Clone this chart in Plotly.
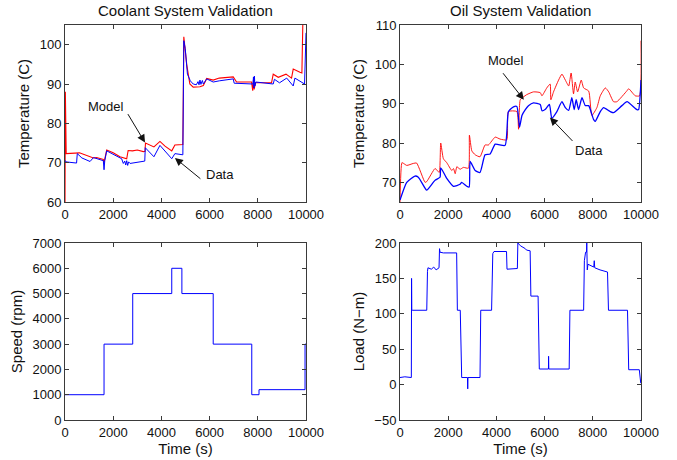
import plotly.graph_objects as go

# ---------------- data ----------------
cool_model_t = [0, 15, 50, 600, 1180, 1310, 1590, 1620, 1730, 2000, 2280, 2560, 2620, 2800, 3000, 3250,
                3320, 3340, 3690, 3940, 4150, 4430, 4560, 4890, 4930, 5050, 5180, 5320, 5600, 5740,
                5880, 6150, 6400, 6980, 7120, 7740, 7790, 7820, 7850, 7900, 8570, 8640, 8850, 9170,
                9400, 9470, 9750, 9830, 9870]
cool_model_v = [60, 88, 72.3, 72.5, 71.2, 71.3, 70.8, 70.0, 73.2, 72.5, 71.5, 71.0, 73.1, 73.0, 73.2, 72.8,
                72.9, 75.0, 74.0, 75.4, 74.2, 73.0, 74.5, 74.6, 102.0, 95.0, 90.0, 89.2, 89.3, 89.6,
                91.4, 91.0, 91.5, 91.8, 90.5, 90.5, 88.3, 91.0, 88.6, 90.3, 90.3, 92.5, 91.7, 92.5,
                91.5, 93.8, 93.0, 92.8, 106.0]

cool_data_t = [0, 40, 480, 510, 700, 1040, 1180, 1590, 1620, 1650, 1730, 2000, 2350, 2420, 2480, 2520,
               2560, 2600, 2640, 2700, 2970, 3200, 3310, 3330, 3690, 3940, 4430, 4560, 4700, 4890,
               4930, 4990, 5080, 5200, 5320, 5450, 5520, 5560, 5600, 5640, 5700, 5740, 5880, 6150,
               6400, 6980, 7020, 7800, 7820, 7840, 7860, 7880, 7920, 8640, 8690, 8900, 9200, 9470,
               9540, 9820, 9940, 10000]
cool_data_v = [70.6, 70.2, 69.9, 72.3, 71.2, 70.3, 71.3, 70.5, 68.2, 70.5, 73.0, 72.2, 71.0, 69.8, 70.4, 69.4,
               70.5, 69.3, 70.2, 69.8, 70.0, 70.2, 70.4, 73.8, 71.5, 74.4, 71.0, 72.3, 72.1, 72.0,
               101.0, 99.0, 92.5, 90.8, 90.0, 89.8, 90.6, 89.8, 91.0, 89.9, 90.9, 90.0, 91.3, 90.5,
               90.8, 91.3, 90.2, 90.0, 91.8, 89.0, 92.0, 89.5, 90.5, 90.0, 91.2, 90.3, 91.5, 89.5,
               91.5, 90.5, 90.0, 103.0]

oil_model_t = [0, 80, 150, 280, 550, 690, 1040, 1110, 1450, 1520, 1630, 1690, 1800, 1940, 2150, 2220,
               2290, 2360, 2490, 2630, 2840, 2880, 2980, 3120, 3320, 3530, 3670, 3950, 4150, 4430,
               4500, 4850, 4920, 4990, 5120, 5260, 5540, 5820, 5890, 6090, 6230, 6260, 6370, 6580,
               6720, 6860, 7000, 7100, 7200, 7270, 7370, 7520, 7620, 7830, 7960, 8170, 8310, 8520,
               8660, 8860, 9000, 9420, 9490, 9760, 9940, 10000]
oil_model_v = [65.0, 75.0, 74.8, 74.3, 74.8, 74.9, 70.0, 70.2, 73.5, 73.2, 72.5, 80.0, 76.0, 75.0, 73.0, 73.5,
               72.2, 74.0, 73.3, 73.8, 73.6, 82.0, 78.0, 77.0, 76.5, 79.5, 79.5, 81.5, 81.0, 80.8,
               88.0, 88.0, 83.5, 91.0, 91.7, 92.3, 93.0, 92.8, 92.0, 94.0, 95.0, 91.0, 93.0, 96.0,
               97.5, 96.0, 94.5, 97.8, 92.5, 95.5, 93.0, 96.0, 94.0, 93.2, 87.0, 89.0, 92.0, 94.0,
               93.0, 90.5, 90.5, 93.3, 93.8, 92.0, 92.0, 106.0]

oil_data_t = [0, 280, 620, 760, 1040, 1110, 1450, 1660, 1690, 1940, 2220, 2490, 2560, 2770, 2870, 2910,
              3120, 3320, 3530, 3740, 3950, 4360, 4500, 4710, 4850, 4960, 5060, 5200, 5330, 5540,
              5820, 5890, 6020, 6200, 6300, 6510, 6720, 6860, 7000, 7130, 7230, 7310, 7410, 7550,
              7690, 7830, 8030, 8100, 8310, 8450, 8720, 8860, 9210, 9420, 9830, 9900, 10000]
oil_data_v = [65.5, 70.0, 71.6, 71.3, 68.5, 68.0, 70.5, 71.3, 73.7, 71.0, 69.0, 69.5, 70.0, 69.0, 68.8, 75.3,
              73.0, 72.5, 77.0, 77.2, 79.7, 79.4, 88.0, 89.2, 89.3, 84.0, 87.0, 88.5, 89.5, 90.2,
              89.8, 88.2, 88.5, 89.8, 86.3, 88.0, 90.5, 89.0, 88.3, 91.5, 88.5, 91.0, 88.5, 91.5,
              89.5, 89.5, 86.0, 85.5, 88.0, 89.0, 88.0, 87.7, 89.5, 90.5, 88.5, 88.5, 96.0]

speed_t = [0, 1620, 2810, 4430, 4850, 6150, 7750, 8050, 9960, 10000]
speed_v = [1000, 3000, 5000, 6000, 5000, 3000, 1000, 1200, 3000, 3000]

load_t = [0, 200, 470, 480, 490, 530, 1110, 1140, 1160, 1300, 1400, 1500, 1620, 1640, 1660, 1800,
          2350, 2380, 2500, 2560, 2800, 2810, 2820, 3320, 3350, 3800, 3850, 3900, 4420, 4440,
          4870, 4890, 5000, 5200, 5250, 5400, 5430, 5730, 5780, 6160, 6165, 6175, 7020, 7050,
          7620, 7650, 7700, 7740, 7750, 7770, 7800, 7920, 8040, 8060, 8080, 8300, 8480, 8610,
          8650, 9440, 9490, 9930, 9990]
load_v = [10, 11, 10, 150, 105, 105, 105, 160, 165, 163, 166, 162, 165, 192, 187, 186,
          186, 105, 105, 10, 10, -6, 10, 10, 105, 105, 185, 188, 188, 163,
          164, 200, 196, 192, 190, 189, 125, 125, 22, 22, 40, 22, 22, 105,
          105, 175, 187, 187, 200, 162, 170, 168, 166, 175, 165, 162, 160, 159,
          105, 105, 21, 21, 2]

x_ticks = [0, 2000, 4000, 6000, 8000, 10000]
x_tick_text = ["0", "2000", "4000", "6000", "8000", "10000"]
cool_ticks = [60, 70, 80, 90, 100]
oil_ticks = [70, 80, 90, 100, 110]
speed_ticks = [0, 1000, 2000, 3000, 4000, 5000, 6000, 7000]
load_ticks = [-50, 0, 50, 100, 150, 200]

# annotation arrow heads (data coordinates)
cool_model_head = (3320, 75.1)
cool_data_head = (4560, 71.2)
oil_model_head = (5140, 91.0)
oil_data_head = (6220, 86.5)

# ---------------- figure ----------------
W, H = 677, 460
RED = "#ff0000"
BLUE = "#0000ff"
AX = "#3a3a3a"
FONT = "Liberation Sans, Arial, Helvetica, sans-serif"

def dx(a, b):
    return [a / W, b / W]

def dy(top, bottom):
    return [1 - bottom / H, 1 - top / H]

fig = go.Figure()

fig.add_trace(go.Scatter(x=cool_model_t, y=cool_model_v, mode="lines",
                         line=dict(color=RED, width=1.1), xaxis="x", yaxis="y"))
fig.add_trace(go.Scatter(x=cool_data_t, y=cool_data_v, mode="lines",
                         line=dict(color=BLUE, width=1.0), xaxis="x", yaxis="y"))
fig.add_trace(go.Scatter(x=oil_model_t, y=oil_model_v, mode="lines",
                         line=dict(color=RED, width=0.9, shape="spline", smoothing=0.5),
                         xaxis="x2", yaxis="y2"))
fig.add_trace(go.Scatter(x=oil_data_t, y=oil_data_v, mode="lines",
                         line=dict(color=BLUE, width=1.3, shape="spline", smoothing=0.5),
                         xaxis="x2", yaxis="y2"))
fig.add_trace(go.Scatter(x=speed_t, y=speed_v, mode="lines",
                         line=dict(color=BLUE, width=1.0, shape="hv"), xaxis="x3", yaxis="y3"))
fig.add_trace(go.Scatter(x=load_t, y=load_v, mode="lines",
                         line=dict(color=BLUE, width=1.0), xaxis="x4", yaxis="y4"))

def xax(dom, anchor, title=None):
    d = dict(domain=dom, anchor=anchor, range=[0, 10000], tickvals=x_ticks, ticktext=x_tick_text,
             showline=True, linecolor=AX, linewidth=1, mirror="ticks",
             ticks="inside", ticklen=4, tickcolor=AX, showgrid=False, zeroline=False,
             tickfont=dict(family=FONT, size=13, color="#111"), automargin=False)
    if title:
        d["title"] = dict(text=title, font=dict(family=FONT, size=15, color="#111"), standoff=2)
    return d

def yax(dom, anchor, rng, ticks, title):
    return dict(domain=dom, anchor=anchor, range=rng, tickvals=ticks,
                showline=True, linecolor=AX, linewidth=1, mirror="ticks",
                ticks="inside", ticklen=4, tickcolor=AX, showgrid=False, zeroline=False,
                tickfont=dict(family=FONT, size=13, color="#111"), automargin=False,
                title=dict(text=title, font=dict(family=FONT, size=15, color="#111"), standoff=6))

top = dy(25, 202)
bot = dy(243, 420)
left = dx(65, 306)
right = dx(400, 641)

fig.update_layout(
    width=W, height=H, margin=dict(l=0, r=0, t=0, b=0),
    paper_bgcolor="white", plot_bgcolor="white", showlegend=False,
    font=dict(family=FONT, color="#111"),
    xaxis=xax(left, "y"),
    yaxis=yax(top, "x", [60, 105], cool_ticks, "Temperature (C)"),
    xaxis2=xax(right, "y2"),
    yaxis2=yax(top, "x2", [65, 110], oil_ticks, "Temperature (C)"),
    xaxis3=xax(left, "y3", "Time (s)"),
    yaxis3=yax(bot, "x3", [0, 7000], speed_ticks, "Speed (rpm)"),
    xaxis4=xax(right, "y4", "Time (s)"),
    yaxis4=yax(bot, "x4", [-50, 200], load_ticks, "Load (N−m)"),
)

titles = [("Coolant System Validation", (65 + 306) / 2), ("Oil System Validation", (400 + 641) / 2)]
for txt, cx in titles:
    fig.add_annotation(text=txt, x=cx / W, y=1 - 11 / H, xref="paper", yref="paper",
                       showarrow=False, font=dict(family=FONT, size=15, color="#111"),
                       xanchor="center", yanchor="middle")

def arrow(head, ax, ay, xr, yr):
    fig.add_annotation(x=head[0], y=head[1], xref=xr, yref=yr, ax=ax, ay=ay,
                       axref="pixel", ayref="pixel", text="", showarrow=True,
                       arrowhead=2, arrowsize=1.6, arrowwidth=1, arrowcolor="#111")

def label(txt, head, dxp, dyp, xr, yr):
    fig.add_annotation(x=head[0], y=head[1], xref=xr, yref=yr, text=txt,
                       showarrow=True, arrowcolor="rgba(0,0,0,0)", ax=dxp, ay=dyp,
                       font=dict(family=FONT, size=13, color="#111"))

arrow(cool_model_head, -18, -30, "x", "y")
label("Model", cool_model_head, -39, -36, "x", "y")
arrow(cool_data_head, 27, 22, "x", "y")
label("Data", cool_data_head, 45, 17, "x", "y")
arrow(oil_model_head, -22, -28, "x2", "y2")
label("Model", oil_model_head, -18, -39, "x2", "y2")
arrow(oil_data_head, 24, 25, "x2", "y2")
label("Data", oil_data_head, 39, 33, "x2", "y2")

fig.write_html("out.html")
